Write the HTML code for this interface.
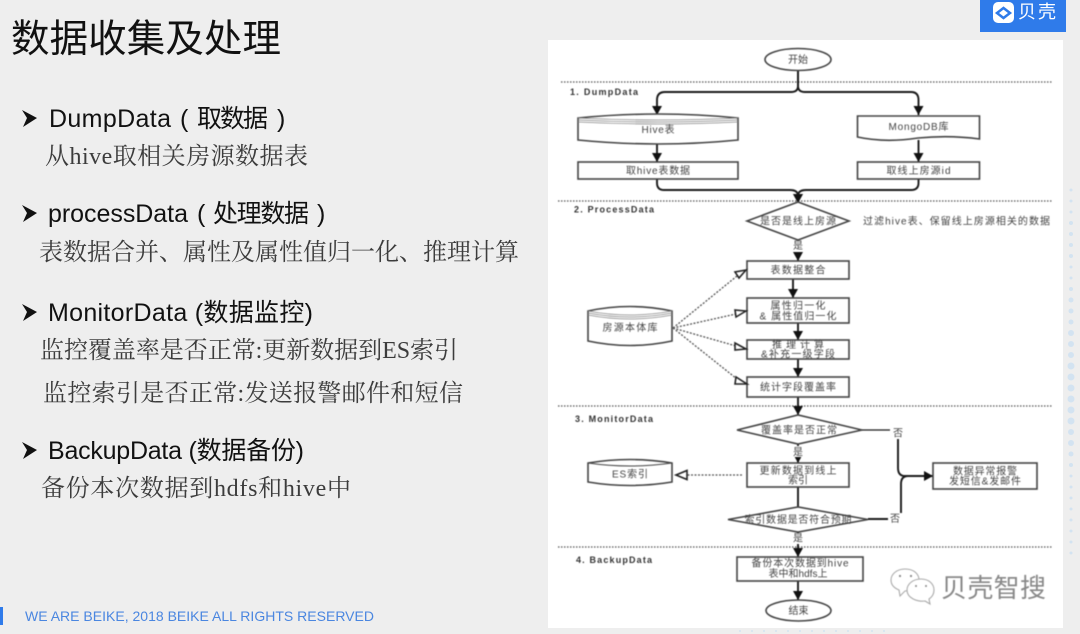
<!DOCTYPE html>
<html lang="zh"><head><meta charset="utf-8"><title>数据收集及处理</title>
<style>
html,body{margin:0;padding:0;width:1080px;height:634px;overflow:hidden;background:#eee}
svg{display:block}
.h{font:25px "Liberation Sans","Noto Sans CJK SC",sans-serif;fill:#111}
.s{font:24px "Liberation Serif","Noto Serif CJK SC",serif;fill:#3c3c3c}
.t{font:10px "Liberation Sans","Noto Sans CJK SC",sans-serif;fill:#444;text-anchor:middle}
.l{font:bold 9px "Liberation Sans",sans-serif;fill:#333}
.b{fill:#fff;stroke:#444;stroke-width:1.6}
.c{fill:none;stroke:#1a1a1a;stroke-width:1.9}
.d{fill:none;stroke:#555;stroke-width:1.2;stroke-dasharray:1.5 1.5}
.p{fill:none;stroke:#555;stroke-width:1.3;stroke-dasharray:2 1.5}
.hv{fill:#fff;stroke:#222;stroke-width:1.6}
</style></head><body>
<svg width="1080" height="634" viewBox="0 0 1080 634" xmlns="http://www.w3.org/2000/svg">
<defs>
<marker id="a" markerUnits="userSpaceOnUse" markerWidth="11" markerHeight="10" refX="9" refY="5" orient="auto"><path d="M0 0L9 5L0 10Z" fill="#111"/></marker>
</defs>
<rect width="1080" height="634" fill="#eee"/>

<text x="11" y="52" style="font:38.5px 'Liberation Sans','Noto Sans CJK SC',sans-serif;fill:#111" textLength="270">数据收集及处理</text>

<g fill="#111">
<path d="M22 110L37 118L23 127L27 118Z"/>
<path d="M22 205L37 213L23 222L27 213Z"/>
<path d="M22 304L37 312L23 321L27 312Z"/>
<path d="M22 442L37 450L23 459L27 450Z"/>
</g>
<text class="h" x="49" y="127" textLength="122">DumpData</text>
<text class="h" x="180" y="127">(</text>
<text class="h" x="197" y="127" textLength="71">取数据</text>
<text class="h" x="277" y="127">)</text>
<text class="s" x="45" y="164" textLength="263">从hive取相关房源数据表</text>

<text class="h" x="48" y="222" textLength="140">processData</text>
<text class="h" x="197" y="222">(</text>
<text class="h" x="213" y="222" textLength="96">处理数据</text>
<text class="h" x="317" y="222">)</text>
<text class="s" x="39" y="260" textLength="480">表数据合并、属性及属性值归一化、推理计算</text>

<text class="h" x="48" y="321" textLength="265">MonitorData (数据监控)</text>
<text class="s" x="40" y="358" textLength="418">监控覆盖率是否正常:更新数据到ES索引</text>
<text class="s" x="43" y="401" textLength="420">监控索引是否正常:发送报警邮件和短信</text>

<text class="h" x="48" y="459" textLength="256">BackupData (数据备份)</text>
<text class="s" x="41" y="496" textLength="310">备份本次数据到hdfs和hive中</text>

<rect x="0" y="607" width="3" height="18" fill="#2f7bea"/>
<text x="25" y="621" style="font:14px 'Liberation Sans',sans-serif;fill:#4a86e0" textLength="349">WE ARE BEIKE, 2018 BEIKE ALL RIGHTS RESERVED</text>

<rect x="980" y="0" width="86" height="32" fill="#2f7bea"/>
<rect x="993" y="2" width="21" height="21" rx="5" fill="#fff"/>
<path d="M997 13L1003.500 8L1010 13L1003.500 18Z" fill="none" stroke="#2f7bea" stroke-width="2.500"/>
<text x="1018" y="18" style="font:18px 'Liberation Sans','Noto Sans CJK SC',sans-serif;fill:#fff" textLength="38">贝壳</text>

<g fill="#d3e3f1">
<circle cx="1071" cy="190" r="1.500"/><circle cx="1071" cy="201" r="1.500"/><circle cx="1071" cy="212" r="1.500"/><circle cx="1071" cy="223" r="2"/><circle cx="1071" cy="234" r="2"/><circle cx="1071" cy="245" r="2"/><circle cx="1071" cy="256" r="2"/><circle cx="1071" cy="267" r="1.500"/><circle cx="1071" cy="278" r="1.500"/><circle cx="1071" cy="289" r="2"/><circle cx="1071" cy="300" r="2.500"/><circle cx="1071" cy="311" r="2.500"/><circle cx="1071" cy="322" r="2.500"/><circle cx="1071" cy="333" r="3"/><circle cx="1071" cy="344" r="3"/><circle cx="1071" cy="355" r="3"/><circle cx="1071" cy="366" r="3.500"/><circle cx="1071" cy="377" r="3.500"/><circle cx="1071" cy="388" r="3.500"/><circle cx="1071" cy="399" r="3.500"/><circle cx="1071" cy="410" r="3.500"/><circle cx="1071" cy="421" r="3.500"/><circle cx="1071" cy="432" r="3"/><circle cx="1071" cy="443" r="3"/><circle cx="1071" cy="454" r="2.500"/><circle cx="1071" cy="465" r="2"/><circle cx="1071" cy="476" r="1.500"/><circle cx="1071" cy="487" r="1.500"/><circle cx="1071" cy="498" r="1.500"/><circle cx="1071" cy="509" r="1.500"/><circle cx="1071" cy="520" r="1.500"/><circle cx="1071" cy="531" r="1.500"/><circle cx="1071" cy="542" r="1.500"/><circle cx="1071" cy="553" r="1.500"/>
<circle cx="740" cy="631" r="1"/><circle cx="752" cy="631" r="1"/><circle cx="764" cy="631" r="1"/><circle cx="776" cy="631" r="1"/><circle cx="788" cy="631" r="1"/><circle cx="800" cy="631" r="1"/><circle cx="812" cy="631" r="1"/><circle cx="824" cy="631" r="1"/><circle cx="836" cy="631" r="1"/><circle cx="848" cy="631" r="1"/><circle cx="860" cy="631" r="1"/><circle cx="872" cy="631" r="1"/><circle cx="884" cy="631" r="1"/>
</g>

<rect x="548" y="40" width="515" height="588" fill="#fff"/>

<g style="filter:blur(.6px)">
<path class="d" d="M561 82H1053M558 201H1053M558 406H1053M558 547H1053"/>
<text class="l" x="570" y="95" textLength="68">1. DumpData</text>
<text class="l" x="574" y="212.500" textLength="80">2. ProcessData</text>
<text class="l" x="575" y="422" textLength="78">3. MonitorData</text>
<text class="l" x="576" y="563" textLength="76">4. BackupData</text>

<path class="c" d="M798 71V86Q798 92 791 92H665Q657 92 657 100V115" marker-end="url(#a)"/>
<path class="c" d="M798 71V86Q798 92 805 92H911Q918.500 92 918.500 100V115" marker-end="url(#a)"/>
<path class="c" d="M657 144V162" marker-end="url(#a)"/>
<path class="c" d="M918.500 140V162" marker-end="url(#a)"/>
<path class="c" d="M657 179V183Q657 190 664 190H790Q798 190 798 196V203" marker-end="url(#a)"/>
<path class="c" d="M918.500 179V183Q918.500 190 911 190H806Q798 190 798 196V203" marker-end="url(#a)"/>
<path class="c" d="M798 239V261" marker-end="url(#a)"/>
<path class="c" d="M793 279V298" marker-end="url(#a)"/>
<path class="c" d="M798 323V340" marker-end="url(#a)"/>
<path class="c" d="M798 359V377" marker-end="url(#a)"/>
<path class="c" d="M798 397V415" marker-end="url(#a)"/>
<path class="c" d="M798 444V463" marker-end="url(#a)"/>
<path class="c" d="M798 487V508"/>
<path class="c" d="M798 532V557" marker-end="url(#a)"/>
<path class="c" d="M798 581V600" marker-end="url(#a)"/>

<ellipse class="b" cx="798" cy="59.500" rx="33" ry="11"/>
<text class="t" x="798" y="63" font-size="9.500">开始</text>

<path class="b" d="M578 118Q658 110 738 118V140Q658 148 578 140Z"/>
<path d="M578 118Q658 122 738 118M578 120Q658 124 738 120M578 122Q658 126 738 122" fill="none" stroke="#888" stroke-width=".8"/>
<text class="t" x="658" y="133" textLength="33">Hive表</text>
<path class="b" d="M857.500 116H979.500V139Q950 135 918 138Q885 143 857.500 137Z"/>
<text class="t" x="918.500" y="130" textLength="60">MongoDB库</text>
<rect class="b" x="578" y="162" width="160" height="17"/>
<text class="t" x="658" y="174" textLength="64">取hive表数据</text>
<rect class="b" x="857.500" y="162" width="122" height="17"/>
<text class="t" x="918.500" y="174" textLength="64">取线上房源id</text>

<path class="b" d="M747 221L798 202L849 221L798 240Z"/>
<text class="t" x="798" y="224.500" textLength="76">是否是线上房源</text>
<text class="t" x="956.500" y="224.500" textLength="187">过滤hive表、保留线上房源相关的数据</text>
<rect x="791" y="241" width="14" height="11" fill="#fff"/>
<text class="t" x="798" y="249">是</text>

<rect class="b" x="747" y="261" width="102" height="18"/>
<text class="t" x="798" y="273.500" textLength="55">表数据整合</text>
<rect class="b" x="747" y="298" width="102" height="25"/>
<text class="t" x="798" y="309" textLength="55">属性归一化</text>
<text class="t" x="798" y="319.500" textLength="77">&amp; 属性值归一化</text>
<rect class="b" x="747" y="340" width="102" height="19"/>
<text class="t" x="798" y="348" textLength="52">推理计算</text>
<text class="t" x="798" y="357.500" textLength="74">&amp;补充一级字段</text>
<rect class="b" x="747" y="377" width="102" height="20"/>
<text class="t" x="798" y="390.500" textLength="76">统计字段覆盖率</text>

<path class="b" d="M588 311Q630 302 672 311V341Q630 350 588 341Z"/>
<path d="M588 311Q630 319 672 311M588 313Q630 321 672 313M588 315Q630 323 672 315" fill="none" stroke="#888" stroke-width=".8"/>
<text class="t" x="630" y="331" textLength="55">房源本体库</text>
<path class="p" d="M673 328L737 276M673 328L736 314M673 328L736 346M673 328L737 379"/>
<path class="hv" d="M746 270L735 272L739 278Z"/>
<path class="hv" d="M746 311L735 310L736 317Z"/>
<path class="hv" d="M746 349L735 343L735 350Z"/>
<path class="hv" d="M747 384L736 377L735 384Z"/>

<path class="b" d="M737 430L798 415L862 430L798 444Z"/>
<text class="t" x="799" y="433.500" textLength="76">覆盖率是否正常</text>
<rect x="791" y="446" width="14" height="11" fill="#fff"/>
<text class="t" x="798" y="455.500">是</text>
<rect class="b" x="747" y="463" width="102" height="24"/>
<text class="t" x="798" y="474" textLength="77">更新数据到线上</text>
<text class="t" x="798" y="483.500">索引</text>
<path class="b" d="M588 463Q630 456 672 463V482Q630 489 588 482Z"/>
<path d="M588 463Q630 469 672 463" fill="none" stroke="#444"/>
<text class="t" x="630" y="477.500" textLength="36">ES索引</text>
<path class="p" d="M742 475H685"/>
<path class="hv" d="M676 475L687 470.500V479.500Z"/>

<path class="b" d="M728 519.500L798 507L868 519.500L798 532Z"/>
<text class="t" x="798" y="523" textLength="107">索引数据是否符合预期</text>
<rect x="791" y="533" width="14" height="11" fill="#fff"/>
<text class="t" x="798" y="541.500">是</text>

<rect class="b" x="737" y="557" width="126" height="24"/>
<text class="t" x="800" y="566.500" textLength="97">备份本次数据到hive</text>
<text class="t" x="798" y="577">表中和hdfs上</text>
<ellipse class="b" cx="798.500" cy="610.500" rx="32.500" ry="10.500"/>
<text class="t" x="798.500" y="614" font-size="9.500">结束</text>

<path class="c" style="stroke-width:1.300" d="M862 430H890"/>
<text class="t" x="898" y="436.500">否</text>
<path class="c" d="M898 439V468Q898 476 905 476H933" marker-end="url(#a)"/>
<path class="c" d="M868 519H888"/>
<text class="t" x="895" y="522">否</text>
<path class="c" d="M901 513V484Q901 476 908 476"/>
<rect class="b" x="933" y="463" width="104" height="26"/>
<text class="t" x="985" y="474.500" textLength="64">数据异常报警</text>
<text class="t" x="985" y="484.500" textLength="72">发短信&amp;发邮件</text>
</g>

<g style="filter:blur(.4px)">
<g fill="#fff" stroke="#aaa" stroke-width="1.100">
<path d="M905 569C914 569 919 574 919 580C919 586 914 591 905 591L900 596L899 590C894 588 891 585 891 580C891 574 897 569 905 569Z"/>
<path d="M921 579C929 579 934 584 934 590C934 594 932 597 929 599L930 604L925 601C917 602 907 598 907 590C907 584 913 579 921 579Z"/>
</g>
<g fill="#888"><circle cx="900" cy="576" r="1.100"/><circle cx="911" cy="576" r="1.100"/><circle cx="916" cy="586" r="1"/><circle cx="926" cy="586" r="1"/></g>
<text x="941" y="597" style="font:26px 'Liberation Sans','Noto Sans CJK SC',sans-serif;fill:#888" textLength="105">贝壳智搜</text>
</g>
</svg>
</body></html>
